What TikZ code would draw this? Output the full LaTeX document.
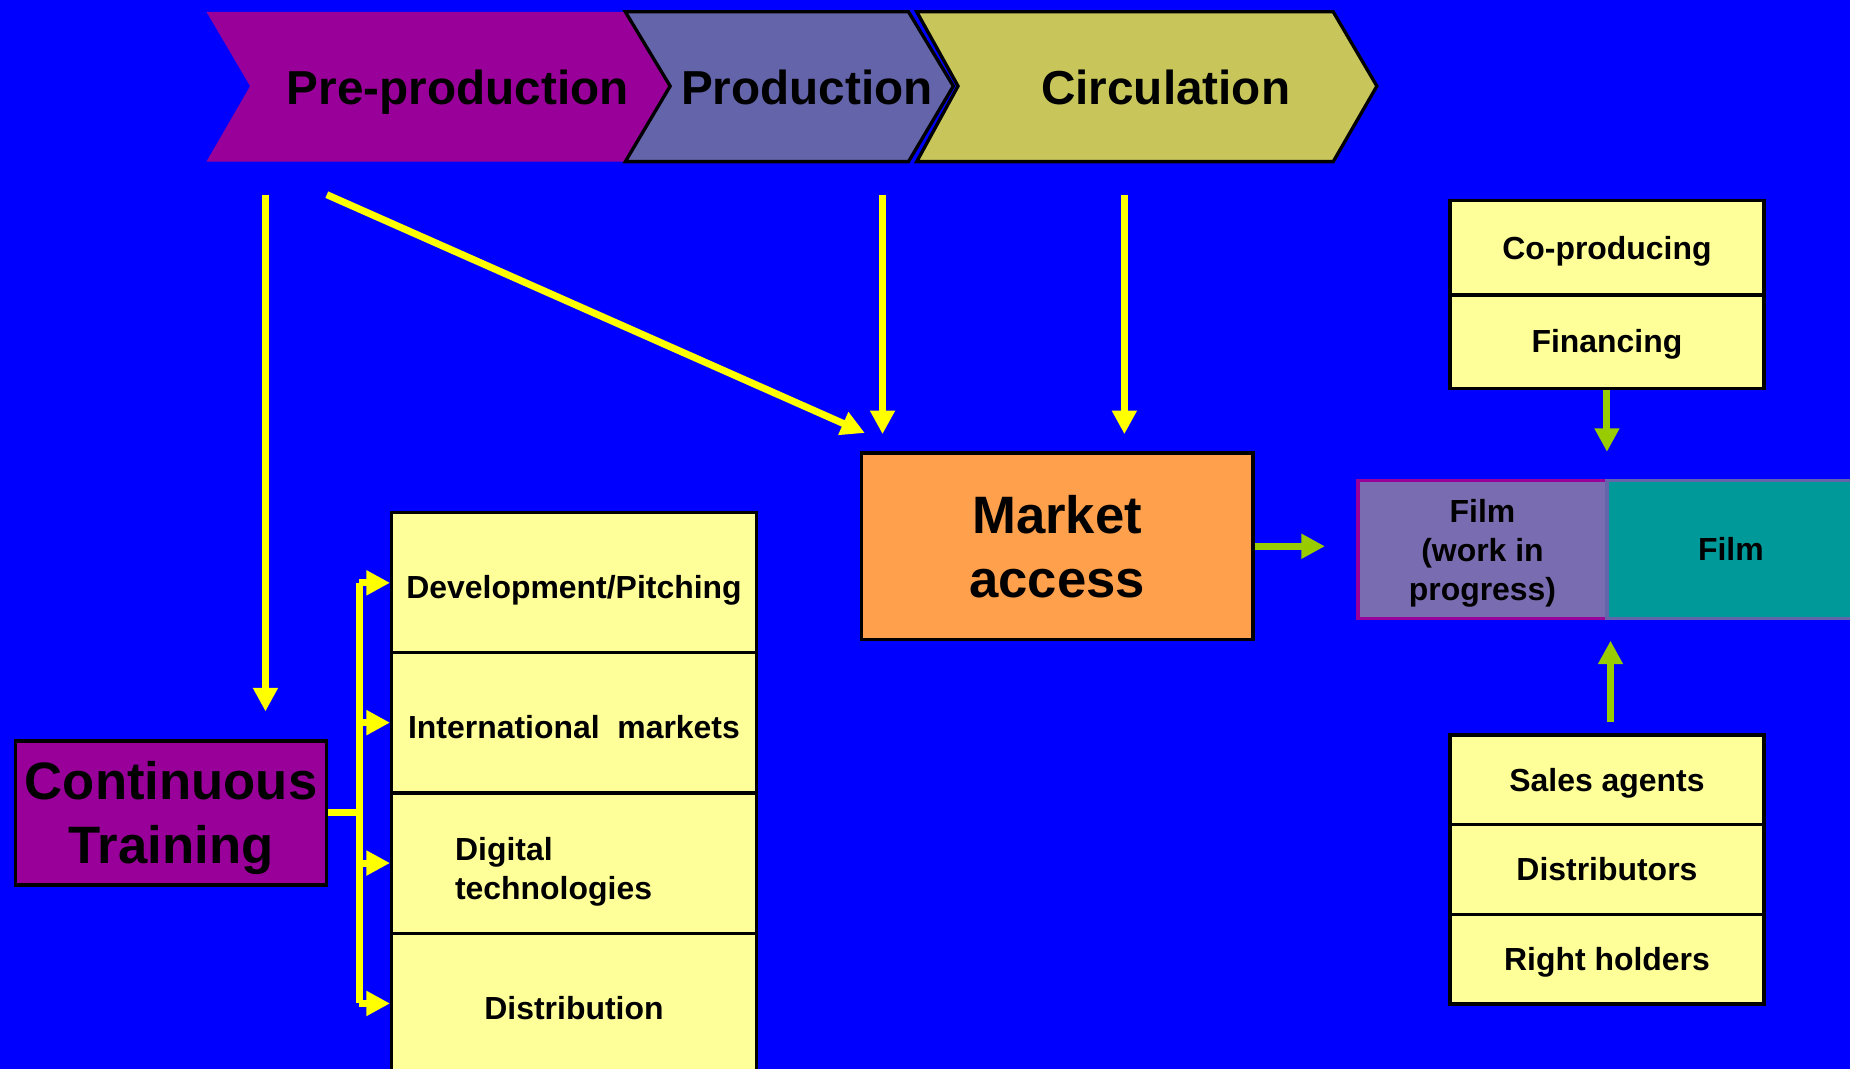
\documentclass[tikz,border=0pt]{standalone}
\usepackage{fontspec}
\setmainfont{Liberation Sans}
\usetikzlibrary{arrows.meta,positioning}
\definecolor{mfblue}{RGB}{0,0,255}
\definecolor{mfpurple}{RGB}{153,0,153}
\definecolor{mfslate}{RGB}{100,100,170}
\definecolor{mfolive}{RGB}{200,198,90}
\definecolor{mforange}{RGB}{255,160,76}
\definecolor{mfcream}{RGB}{255,255,153}
\definecolor{mfyellow}{RGB}{255,255,0}
\definecolor{mfgreen}{RGB}{153,204,0}
\definecolor{mfwip}{RGB}{122,108,176}
\definecolor{mfteal}{RGB}{0,153,153}
\tikzstyle{chevron} = [line width=0.8pt, draw=black]
\tikzstyle{phase} = [font=\bfseries\fontsize{11.5}{13.8}\selectfont, text height=8.2pt, text depth=0pt]
\tikzstyle{smalltext} = [font=\bfseries\fontsize{7.7}{9.3}\selectfont, align=center, inner sep=0pt]
\tikzstyle{cell} = [draw=black, line width=0.8pt, fill=mfcream, inner sep=0pt, align=center, font=\bfseries\fontsize{7.7}{9.3}\selectfont, text height=5.5pt, text depth=0pt]
\tikzstyle{tallcell} = [cell, minimum width=3.09cm, minimum height=1.19cm, text height=7.6pt]
\tikzstyle{bigbox} = [draw=black, line width=0.8pt, inner sep=0pt, align=center, font=\bfseries\fontsize{12.7}{15.4}\selectfont]
\tikzstyle{yarrow} = [line width=1.7pt, draw=mfyellow, -{Triangle[width=0.2cm,length=0.2cm]}, fill=mfyellow]
\tikzstyle{garrow} = [line width=1.7pt, draw=mfgreen, -{Triangle[width=0.2cm,length=0.2cm]}, fill=mfgreen]

\begin{document}
\begin{tikzpicture}[x=0.1mm, y=-0.1mm]
% page and background
\useasboundingbox (0,0) rectangle (1568,906);
\fill[mfblue] (0,0) rectangle (1568,906);
\clip (0,0) rectangle (1568,906);

% Phases (chevrons)
\fill[mfpurple] (175,10) -- (530,10) -- (568,73) -- (530,137) -- (175,137) -- (212,73) -- cycle;
\filldraw[chevron, fill=mfslate] (530,10) -- (770,10) -- (808,73) -- (770,137) -- (530,137) -- (568,73) -- cycle;
\filldraw[chevron, fill=mfolive] (777,10) -- (1130,10) -- (1167,73) -- (1130,137) -- (777,137) -- (812,73) -- cycle;
\node[phase] (pre) at (388,74) {Pre-production};
\node[phase] (prod) at (684,74) {Production};
\node[phase] (circ) at (988,74) {Circulation};

% Market access
\node[bigbox, fill=mforange, minimum width=3.32cm, minimum height=1.58cm] (market) at (896,463) {Market\\access};

% Continuous training
\node[bigbox, fill=mfpurple, minimum width=2.64cm, minimum height=1.22cm] (train) at (145,689) {};
\node[bigbox, draw=none] (trainlbl) at (145,693) {Continuous\\Training};

% Training topics
\node[tallcell] (dev) at (486.5,494) {Development/Pitching};
\node[tallcell] (intl) at (486.5,612.5) {International~~markets};
\node[tallcell] (digi) at (486.5,731.5) {};
\node[smalltext, align=left, anchor=west] (digilbl) at (385,739) {Digital\\technologies};
\node[tallcell] (dist) at (486.5,850.5) {Distribution};

% Film
\node[cell, fill=mfwip, draw=mfpurple, minimum width=2.11cm, minimum height=1.17cm] (wip) at (1256.5,465.5) {};
\node[smalltext] (wiplbl) at (1256.5,469) {Film\\(work in\\progress)};
\node[cell, fill=mfteal, draw=mfslate, minimum width=2.10cm, minimum height=1.17cm] (film) at (1467,465.5) {Film};

% Partners
\node[cell, minimum width=2.66cm, minimum height=0.80cm] (coprod) at (1362,210) {Co-producing};
\node[cell, minimum width=2.66cm, minimum height=0.79cm] (finance) at (1362,289.5) {Financing};
\node[cell, minimum width=2.66cm, minimum height=0.76cm] (sales) at (1362,661) {Sales agents};
\node[cell, minimum width=2.66cm, minimum height=0.76cm] (distrib) at (1362,737) {Distributors};
\node[cell, minimum width=2.66cm, minimum height=0.76cm] (rights) at (1362,813) {Right holders};

% Arrows from the phases
\coordinate (preA) at (225,165);
\coordinate (preB) at (277,165);
\coordinate (prodA) at (748,165);
\coordinate (circA) at (953,165);
\draw[yarrow] (preA) -- (preA |- 0,603);
\draw[yarrow] (preB) -- (733,367);
\draw[yarrow] (prodA) -- (prodA |- 0,368);
\draw[yarrow] (circA) -- (circA |- 0,368);

% Training bracket
\draw[line width=1.7pt, mfyellow] (train.east) -- ++(26,0) coordinate (brk);
\draw[line width=1.7pt, mfyellow] (brk |- dev.west) -- (brk |- dist.west);
\foreach \r in {dev,intl,digi,dist}
    \draw[yarrow] (brk |- \r.west) -- (\r.west);

% Green arrows
\draw[garrow] (market.east) -- (1123,463);
\draw[garrow] (finance.south) -- (1362,383);
\draw[garrow] (1365,612) -- (1365,543);
\end{tikzpicture}
\end{document}
